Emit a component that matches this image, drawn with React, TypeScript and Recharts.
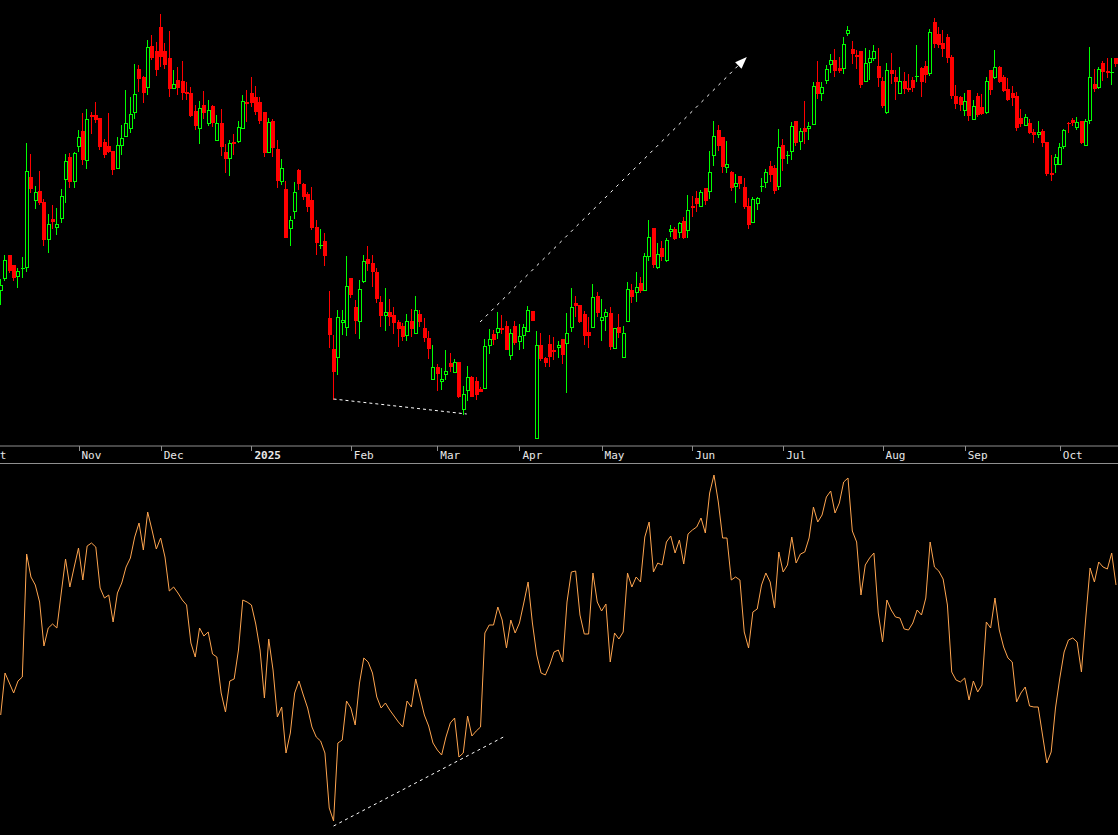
import React from "react";
import { Bar, ComposedChart, Line, LineChart, ReferenceLine, XAxis, YAxis } from "recharts";

// daily candles, Oct 2024 .. Oct 2025 (price units)
const opens = [
  155, 167, 191, 181, 169, 177.5, 178, 269, 245, 255,
  244, 206, 227, 218, 227, 266, 289, 264, 299, 315,
  285, 331, 331, 328, 304, 300, 295, 277, 300, 309,
  317, 333, 377, 369, 358, 400, 395, 419, 395, 388,
  357, 366, 365, 354, 353, 335, 317, 341, 322, 340,
  305, 323, 294, 287, 304, 304, 317, 344, 353, 349,
  344, 334, 293, 325, 297, 264, 257, 217, 234, 276,
  262, 252, 246, 219, 200, 205, 128, 97, 88, 123,
  118, 168, 139, 124, 164, 187, 183, 174, 144, 130,
  134, 131, 124, 120, 110, 125, 112, 132, 118, 108,
  66, 79, 64, 71, 83, 73, 84, 36, 55, 69,
  65, 57, 57, 100, 112, 113, 118, 120, 90, 120,
  104, 110, 114, 135, 7, 101, 88, 102, 96, 98,
  107, 102, 118, 143, 141, 132, 114, 118, 150, 125,
  129, 133, 97, 119, 88, 124, 156, 153, 163, 155,
  189, 218, 178, 198, 185, 214, 217, 213, 225, 215,
  240, 248, 239, 258, 254, 290, 316, 309, 278, 274,
  259, 270, 259, 240, 223, 242, 259, 263, 280, 278,
  259, 301, 291, 294, 325, 304, 318, 317, 321, 364,
  352, 365, 381, 386, 378, 377, 412, 397, 391, 395,
  364, 383, 387, 380, 365, 333, 376, 369, 352, 365,
  358, 366, 369, 378, 380, 372, 424, 412, 403, 409,
  389, 350, 349, 335, 356, 326, 350, 339, 333, 376,
  368, 379, 369, 357, 353, 350, 328, 320, 323, 314,
  311, 315, 304, 273, 281, 281, 299, 323, 326, 318,
  325, 300, 325, 362, 358, 383, 375, 373, 388,
];

const closes = [
  161, 186, 175, 168, 175, 178, 275, 257, 254, 243,
  206, 222, 224, 222, 250, 285, 264, 293, 309, 286,
  327, 329, 326, 299, 291, 294, 276, 301, 308, 323,
  332, 352, 367, 353, 399, 388, 376, 389, 381, 357,
  362, 358, 353, 352, 330, 320, 338, 333, 336, 323,
  323, 299, 287, 303, 302, 319, 345, 342, 343, 334,
  325, 293, 324, 298, 265, 278, 208, 226, 254, 262,
  249, 239, 218, 203, 201, 190, 111, 74, 129, 126,
  160, 151, 125, 157, 185, 182, 174, 147, 130, 134,
  129, 123, 117, 109, 125, 117, 136, 124, 108, 97,
  79, 72, 67, 75, 79, 84, 49, 52, 69, 49,
  51, 54, 100, 107, 106, 118, 116, 96, 113, 103,
  110, 119, 136, 125, 101, 87, 83, 89, 94, 101,
  91, 113, 139, 140, 124, 110, 110, 149, 133, 129,
  134, 99, 118, 113, 113, 157, 149, 159, 155, 190,
  209, 181, 192, 189, 206, 217, 207, 223, 208, 236,
  238, 242, 254, 245, 274, 310, 300, 279, 282, 258,
  263, 262, 239, 221, 247, 248, 260, 274, 271, 255,
  299, 287, 291.5, 320, 303, 315, 314, 320, 360, 352,
  359, 377, 386, 375, 375, 402, 416, 392, 389, 361,
  383, 388, 395, 368, 340, 376, 372, 364, 365, 357,
  356, 358, 370, 364, 371, 414, 402, 401, 397, 388,
  350, 342, 341, 345, 330, 340, 331, 332, 365, 356,
  379, 364, 355, 346, 348, 318, 322, 329, 313, 311,
  314, 303, 272, 271, 289, 299, 316, 322, 323, 324,
  303, 325, 369, 357, 377, 374, 373, 374, 382,
];

const highs = [
  167, 191, 191, 181, 178, 189, 303, 292, 260, 275,
  247, 232, 241, 238, 257, 292, 293, 294, 316, 333,
  337, 334, 344, 328, 307, 333, 295, 309, 321, 356,
  349, 382, 381, 370, 406, 411, 404, 432, 403, 415,
  376, 379, 385, 364, 359, 341, 345, 355, 346, 341,
  331, 337, 302, 306, 312, 325, 351, 356, 369, 360,
  349, 334, 328, 327, 306, 287, 265, 230, 264, 277,
  263, 254, 259, 226, 217, 213, 155, 111, 136, 136,
  190, 168, 146, 166, 191, 200, 191, 178, 150, 158,
  147, 139, 126, 123, 132, 137, 150, 136, 128, 115,
  101, 82, 78, 96, 93, 87, 84, 60, 80, 70,
  69, 59, 107, 117, 116, 134, 131, 125, 117, 125,
  122, 122, 140, 135, 115, 113, 89, 111, 109, 105,
  107, 133, 158, 150, 141, 135, 129, 162, 154, 147,
  137, 139, 118, 132, 120, 164, 162, 174, 169, 193,
  226, 218, 203, 205, 208, 221, 219, 224, 229, 251,
  250, 255, 256, 258, 295, 325, 321, 309, 305, 275,
  272, 270, 268, 248, 249, 249, 268, 277, 285, 281,
  317, 307, 295, 324, 325, 318, 345, 324, 364, 385,
  364, 381, 392, 397, 389, 409, 420, 405, 396, 395,
  398, 396, 401, 398, 369, 383, 393, 376, 379, 374,
  372, 369, 401, 379, 385, 417, 428, 419, 416, 412,
  391, 361, 350, 353, 356, 346, 353, 352, 369, 376,
  396, 380, 371, 368, 360, 354, 337, 332, 327, 317,
  325, 317, 304, 291, 292, 303, 317, 324, 328, 329,
  325, 327, 399, 377, 379, 385, 388, 388, 388,
];

const lows = [
  141, 165, 173, 165, 158, 168, 174, 253, 237, 241,
  200, 193, 217, 211, 223, 243, 258, 258, 294, 281,
  277, 312, 323, 296, 288, 293, 271, 277, 291, 309,
  313, 327, 354, 343, 351, 386, 370, 379, 377, 349,
  357, 351, 346, 346, 329, 316, 302, 327, 320, 319,
  305, 290, 273, 270, 291, 303, 317, 324, 339, 331,
  322, 289, 293, 289, 258, 261, 208, 200, 227, 256,
  246, 234, 216, 191, 197, 180, 98, 46, 71, 111,
  110, 148, 112, 107, 163, 175, 159, 143, 119, 115,
  120, 112, 99, 105, 105, 109, 112, 119, 104, 87,
  66, 55, 56, 66, 74, 73, 48, 31, 45, 49,
  46, 54, 57, 92, 101, 107, 112, 96, 86, 101,
  96, 97, 114, 125, 7, 85, 79, 79, 86, 88,
  82, 53, 114, 129, 123, 101, 98, 118, 129, 105,
  115, 96, 97, 108, 88, 124, 143, 144, 153, 155,
  185, 178, 177, 185, 184, 209, 206, 208, 207, 208,
  229, 234, 239, 241, 247, 280, 295, 273, 273, 255,
  243, 257, 237, 217, 223, 236, 254, 258, 264, 252,
  256, 275, 282, 286, 300, 296, 302, 306, 321, 347,
  345, 362, 373, 369, 373, 372, 410, 382, 377, 358,
  364, 366, 385, 359, 338, 332, 362, 346, 352, 352,
  354, 354, 364, 349, 363, 370, 398, 398, 389, 383,
  347, 337, 335, 330, 325, 326, 329, 331, 332, 351,
  367, 363, 354, 345, 340, 315, 319, 320, 312, 303,
  308, 299, 270, 265, 273, 281, 297, 313, 320, 316,
  302, 300, 322, 354, 357, 365, 368, 361, 379,
];

// lower panel oscillator, one value per candle
const oscillator = [
  120, 162, 152, 142, 154, 158, 281, 258, 250, 233,
  189, 207, 211, 207, 242, 276, 248, 268, 287, 255,
  289, 292, 288, 247, 237, 240, 213, 242, 252, 268,
  277, 298, 312, 285, 323, 305, 286, 297, 278, 244,
  248, 242, 235, 230, 192, 178, 207, 199, 203, 181,
  178, 142, 123, 154, 156, 185, 235, 233, 230, 211,
  185, 137, 196, 165, 118, 128, 82, 102, 142, 154,
  140, 127, 108, 98, 94, 82, 27, 14, 92, 95,
  134, 127, 110, 152, 177, 173, 162, 138, 127, 132,
  125, 119, 113, 108, 134, 128, 156, 138, 120, 109,
  92, 85, 80, 98, 112, 117, 78, 82, 119, 99,
  104, 108, 202, 210, 210, 228, 215, 187, 215, 202,
  212, 232, 253, 212, 180, 162, 160, 170, 183, 185,
  173, 233, 263, 264, 220, 201, 201, 262, 233, 224,
  231, 173, 202, 196, 203, 262, 248, 258, 253, 298,
  313, 263, 272, 270, 293, 299, 282, 295, 271, 301,
  305, 308, 317, 302, 342, 360, 333, 297, 297, 255,
  258, 255, 203, 187, 223, 226, 250, 262, 253, 227,
  283, 263, 270, 298, 272, 281, 283, 297, 328, 313,
  320, 338, 344, 322, 332, 353, 357, 304, 293, 240,
  270, 277, 282, 222, 193, 235, 225, 218, 217, 206,
  205, 212, 225, 220, 237, 293, 268, 264, 256, 230,
  163, 155, 153, 157, 135, 154, 143, 150, 213, 207,
  237, 205, 188, 177, 173, 133, 142, 148, 129, 128,
  128, 100, 72, 83, 127, 157, 183, 195, 197, 193,
  163, 217, 267, 253, 273, 268, 266, 282, 250,
];

// first candle index of each month on the time axis
const monthStarts = [18, 37, 58, 81, 101, 120, 139, 160, 181, 204, 223, 245];
const monthLabels = ["Nov", "Dec", "2025", "Feb", "Mar", "Apr", "May", "Jun", "Jul", "Aug", "Sep", "Oct"];
const leadMonth = "Oct";

// hand drawn trend lines (candle index, value)
const priceSupport = [{ i: 77, v: 47 }, { i: 107.8, v: 32 }];
const priceArrow = [{ i: 110.9, v: 124 }, { i: 172.6, v: 389 }];
const oscSupport = [{ i: 77, v: 9 }, { i: 116.3, v: 98 }];

const W = 1118;
const PRICE_H = 463;
const OSC_H = 371;
const X_DOMAIN: [number, number] = [-0.162, 258.46];
const PRICE_DOMAIN: [number, number] = [0, 446];
const OSC_DOMAIN: [number, number] = [0, 370];

const GREEN = "#00ff00";
const RED = "#ff0000";
const ORANGE = "#ffa54f";
const AXIS_GREY = "#8f8f8f";

const candles = opens.map((open, i) => ({
  i,
  open,
  close: closes[i],
  high: highs[i],
  low: lows[i],
  range: [lows[i], highs[i]],
  osc: oscillator[i],
}));

function Candle(props: any) {
  const { x, y, width, height, payload } = props;
  if (!payload || !Number.isFinite(x) || !Number.isFinite(y)) return null;
  const top = height < 0 ? y + height : y;
  const h = Math.abs(height || 0);
  const { open, close, high, low } = payload;
  const span = high - low;
  const at = (v: number) => (span > 0 ? top + ((high - v) / span) * h : top);
  const col = Math.floor(x + width / 2);
  const wx = col + 0.5;
  const hiY = at(high);
  const loY = at(low);
  const bTop = Math.round(at(Math.max(open, close)));
  const bBot = Math.round(at(Math.min(open, close)));

  if (close < open) {
    return (
      <g>
        <line x1={wx} x2={wx} y1={hiY} y2={loY} stroke={RED} />
        <rect x={col - 1} y={bTop} width={4} height={Math.max(bBot - bTop, 1)} fill={RED} />
      </g>
    );
  }
  if (bBot - bTop < 2) {
    return (
      <g>
        <line x1={wx} x2={wx} y1={hiY} y2={loY} stroke={GREEN} />
        <rect x={col - 1} y={bTop} width={4} height={1} fill={GREEN} />
      </g>
    );
  }
  return (
    <g>
      <line x1={wx} x2={wx} y1={hiY} y2={bTop} stroke={GREEN} />
      <line x1={wx} x2={wx} y1={bBot} y2={loY} stroke={GREEN} />
      <rect x={col - 0.5} y={bTop + 0.5} width={3} height={bBot - bTop - 1} fill="#000" stroke={GREEN} />
    </g>
  );
}

function MonthTick({ x, y, payload }: any) {
  const k = monthStarts.indexOf(payload?.value);
  const lead = k < 0;
  const label = lead ? leadMonth : monthLabels[k];
  const tx = Math.round(x) + 0.5;
  return (
    <g>
      {!lead && <line x1={tx} x2={tx} y1={y} y2={y + 5} stroke={AXIS_GREY} />}
      <text
        x={lead ? x - 13.5 : x + 3}
        y={y + 12.5}
        fill="#e8e8e8"
        fontSize={11}
        fontFamily='"DejaVu Sans Mono", "Liberation Mono", monospace'
        fontWeight={label === "2025" ? 700 : 400}
      >
        {label}
      </text>
    </g>
  );
}

function DashedArrow(props: any) {
  const { x1, y1, x2, y2 } = props;
  const ang = Math.atan2(y2 - y1, x2 - x1);
  const len = 12;
  const half = 4.5;
  const bx = x2 - len * Math.cos(ang);
  const by = y2 - len * Math.sin(ang);
  const pts = [
    `${x2},${y2}`,
    `${bx + half * Math.sin(ang)},${by - half * Math.cos(ang)}`,
    `${bx - half * Math.sin(ang)},${by + half * Math.cos(ang)}`,
  ].join(" ");
  return (
    <g>
      <line x1={x1} y1={y1} x2={bx} y2={by} stroke="#ffffff" strokeDasharray="3 5" />
      <polygon points={pts} fill="#ffffff" />
    </g>
  );
}

export default function App() {
  return (
    <div style={{ position: "absolute", left: 0, top: 0, width: W, height: 835, background: "#000", overflow: "hidden" }}>
      <div style={{ height: PRICE_H, borderBottom: `1px solid ${AXIS_GREY}` }}>
        <ComposedChart width={W} height={PRICE_H} data={candles} margin={{ top: 0, right: 0, bottom: 0, left: 0 }}>
          <XAxis
            dataKey="i"
            type="number"
            domain={X_DOMAIN}
            allowDataOverflow
            ticks={[X_DOMAIN[0], ...monthStarts]}
            interval={0}
            tick={<MonthTick />}
            tickLine={false}
            tickSize={0}
            tickMargin={0}
            axisLine={{ stroke: AXIS_GREY }}
            height={17}
          />
          <YAxis hide type="number" domain={PRICE_DOMAIN} allowDataOverflow />
          <Bar dataKey="range" barSize={4} shape={(p: any) => <Candle {...p} />} isAnimationActive={false} />
          <ReferenceLine
            segment={[{ x: priceSupport[0].i, y: priceSupport[0].v }, { x: priceSupport[1].i, y: priceSupport[1].v }]}
            stroke="#ffffff"
            strokeDasharray="3 3"
          />
          <ReferenceLine
            segment={[{ x: priceArrow[0].i, y: priceArrow[0].v }, { x: priceArrow[1].i, y: priceArrow[1].v }]}
            shape={(p: any) => <DashedArrow {...p} />}
          />
        </ComposedChart>
      </div>
      <LineChart width={W} height={OSC_H} data={candles} margin={{ top: 1, right: 0, bottom: 0, left: 0 }}>
        <XAxis hide dataKey="i" type="number" domain={X_DOMAIN} allowDataOverflow />
        <YAxis hide type="number" domain={OSC_DOMAIN} allowDataOverflow />
        <Line type="linear" dataKey="osc" stroke={ORANGE} strokeWidth={1} dot={false} isAnimationActive={false} />
        <ReferenceLine
          segment={[{ x: oscSupport[0].i, y: oscSupport[0].v }, { x: oscSupport[1].i, y: oscSupport[1].v }]}
          stroke="#ffffff"
          strokeDasharray="3 3.5"
        />
      </LineChart>
    </div>
  );
}
